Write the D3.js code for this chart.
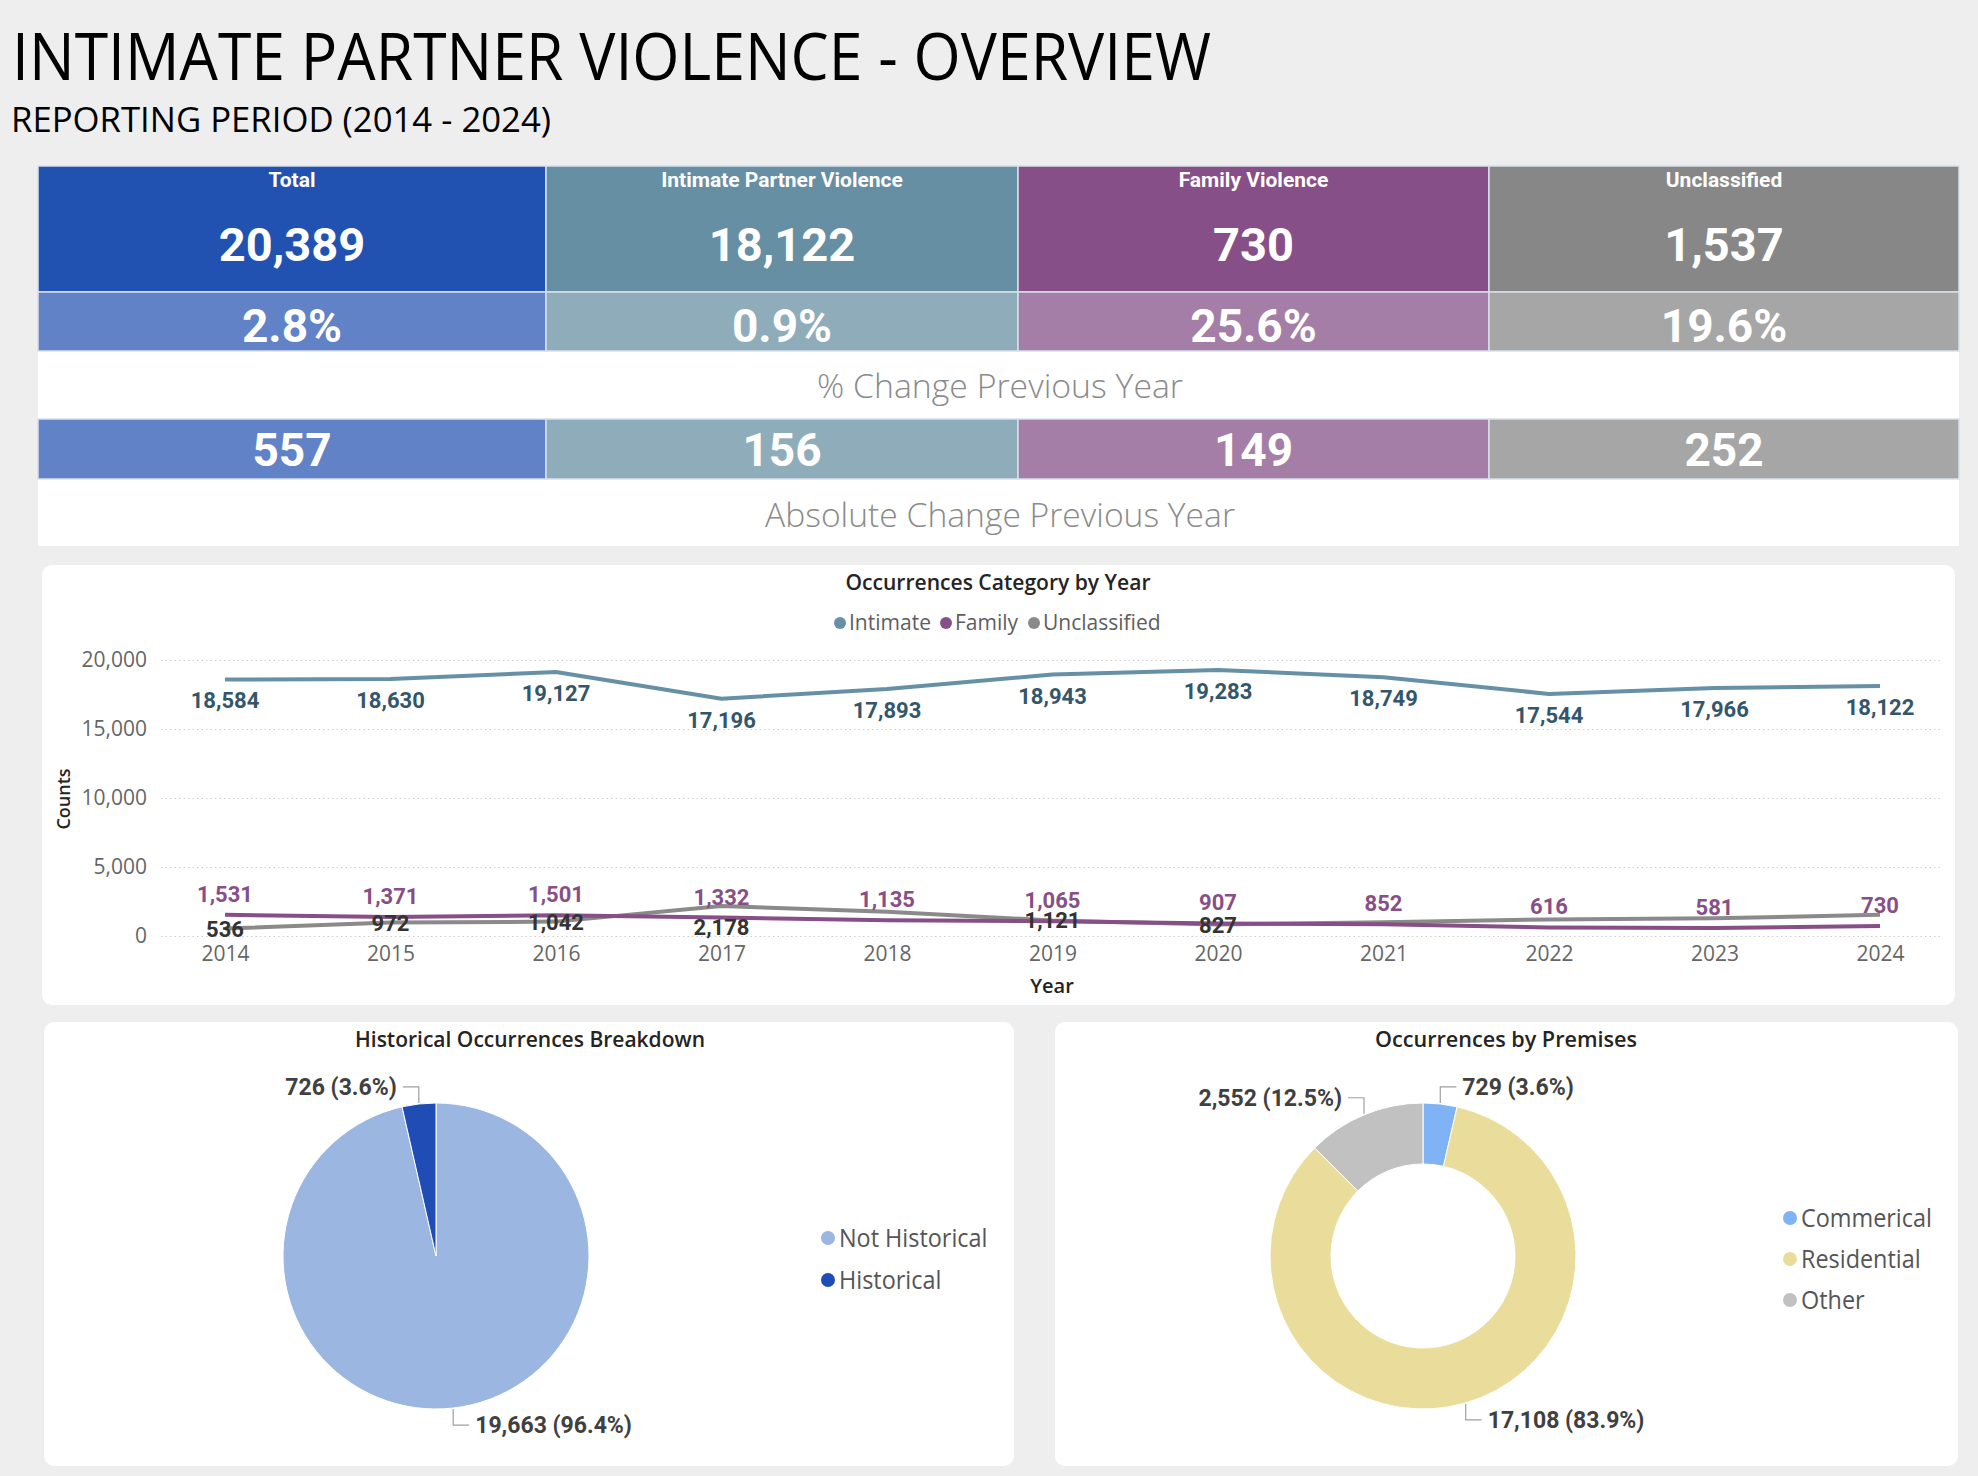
<!DOCTYPE html>
<html>
<head>
<meta charset="utf-8">
<style>
  body { margin: 0; background: #eeeeee; }
  svg { display: block; }
  .seg { font-family: "Open Sans", "Noto Sans", sans-serif; }
  .din { font-family: Roboto, "Noto Sans", sans-serif; font-weight: 700; }
  .grid line { stroke: #cfcfcf; stroke-dasharray: 1.5,3; }
  .grid path { display: none; }
  .axis path, .axis line { display: none; }
  .axis text { font-family: "Open Sans", sans-serif; font-size: 21px; fill: #666; }
</style>
<script src="https://d3js.org/d3.v7.min.js"></script>
</head>
<body>
<svg width="1978" height="1476"></svg>
<script>

// ---- data ----
var kpiCategories = ["Total", "Intimate Partner Violence", "Family Violence", "Unclassified"];
var kpiCounts = [20389, 18122, 730, 1537];
var kpiPctChange = [2.8, 0.9, 25.6, 19.6];
var kpiAbsChange = [557, 156, 149, 252];

var years = [2014, 2015, 2016, 2017, 2018, 2019, 2020, 2021, 2022, 2023, 2024];
var intimate = [18584, 18630, 19127, 17196, 17893, 18943, 19283, 18749, 17544, 17966, 18122];
var family = [1531, 1371, 1501, 1332, 1135, 1065, 907, 852, 616, 581, 730];
var unclassified = [536, 972, 1042, 2178, 1750, 1121, 827, 1000, 1200, 1285, 1537];
var unclassifiedLabelShown = [true, true, true, true, false, true, true, false, false, false, false];
var seriesNames = ["Intimate", "Family", "Unclassified"];
var yTicks = [0, 5000, 10000, 15000, 20000];

var historicalLabels = ["Not Historical", "Historical"];
var historicalCounts = [19663, 726];

var premisesLabels = ["Commerical", "Residential", "Other"];
var premisesCounts = [729, 17108, 2552];

// ---- styles ----
var kpiDark = ["#2152b2", "#668fa3", "#874f87", "#878787"];
var kpiLight = ["#6182c6", "#8facba", "#a47ea6", "#a6a6a6"];
var lineColors = ["#6690a5", "#874f87", "#8a8a8a"];
var labelColors = ["#34566b", "#874f87", "#333333"];
var historicalColors = ["#9ab6e1", "#1f4db5"];
var premisesColors = ["#7fb3f5", "#eadd9b", "#c1c1c1"];

var svg = d3.select("svg");
var fmt = d3.format(",");

svg.append("rect").attr("width", 1978).attr("height", 1476).attr("fill", "#eeeeee");

function fitWidth(sel, w) {
  sel.attr("textLength", w).attr("lengthAdjust", "spacingAndGlyphs");
}
function squeeze(sel, k) {
  sel.each(function() {
    var w = this.getComputedTextLength();
    d3.select(this).attr("textLength", w * k).attr("lengthAdjust", "spacingAndGlyphs");
  });
}

// ---- page title ----
svg.append("text").attr("class", "seg")
  .attr("x", 12).attr("y", 80)
  .attr("font-size", 66).attr("fill", "#000")
  .text("INTIMATE PARTNER VIOLENCE - OVERVIEW")
  .call(fitWidth, 1199);

svg.append("text").attr("class", "seg")
  .attr("x", 11).attr("y", 132)
  .attr("font-size", 34).attr("fill", "#000")
  .text("REPORTING PERIOD (2014 - 2024)")
  .call(fitWidth, 540);

// ---- KPI table ----
var colEdges = [38, 546, 1018, 1489, 1959];
var kpi = svg.append("g");
var rows = { top: 166, mid: 292, pctBottom: 351, absTop: 419, absBottom: 479, end: 546 };

kpi.append("rect").attr("x", colEdges[0]).attr("y", rows.pctBottom)
  .attr("width", colEdges[4] - colEdges[0]).attr("height", rows.absTop - rows.pctBottom).attr("fill", "#fff");
kpi.append("rect").attr("x", colEdges[0]).attr("y", rows.absBottom)
  .attr("width", colEdges[4] - colEdges[0]).attr("height", rows.end - rows.absBottom).attr("fill", "#fff");

kpiCategories.forEach(function(name, i) {
  var x0 = colEdges[i], x1 = colEdges[i + 1], cx = (x0 + x1) / 2;
  kpi.append("rect").attr("x", x0).attr("y", rows.top).attr("width", x1 - x0).attr("height", rows.mid - rows.top)
    .attr("fill", kpiDark[i]).attr("stroke", "#d8e0ec").attr("stroke-width", 1.5);
  kpi.append("rect").attr("x", x0).attr("y", rows.mid).attr("width", x1 - x0).attr("height", rows.pctBottom - rows.mid)
    .attr("fill", kpiLight[i]).attr("stroke", "#d8e0ec").attr("stroke-width", 1.5);
  kpi.append("rect").attr("x", x0).attr("y", rows.absTop).attr("width", x1 - x0).attr("height", rows.absBottom - rows.absTop)
    .attr("fill", kpiLight[i]).attr("stroke", "#d8e0ec").attr("stroke-width", 1.5);

  kpi.append("text").attr("class", "din").attr("x", cx).attr("y", 187)
    .attr("text-anchor", "middle").attr("font-size", 21).attr("font-weight", 500).attr("fill", "#fff")
    .text(name);
  kpi.append("text").attr("class", "din").attr("x", cx).attr("y", 261)
    .attr("text-anchor", "middle").attr("font-size", 47).attr("fill", "#fff")
    .text(fmt(kpiCounts[i]));
  kpi.append("text").attr("class", "din").attr("x", cx).attr("y", 342)
    .attr("text-anchor", "middle").attr("font-size", 46).attr("fill", "#fff")
    .text(kpiPctChange[i].toFixed(1) + "%");
  kpi.append("text").attr("class", "din").attr("x", cx).attr("y", 466)
    .attr("text-anchor", "middle").attr("font-size", 46).attr("fill", "#fff")
    .text(fmt(kpiAbsChange[i]));
});

kpi.append("text").attr("class", "seg").attr("x", 1000).attr("y", 398)
  .attr("text-anchor", "middle").attr("font-size", 33).attr("font-weight", 300).attr("fill", "#8a8a8a")
  .text("% Change Previous Year").call(fitWidth, 366);
kpi.append("text").attr("class", "seg").attr("x", 1000).attr("y", 527)
  .attr("text-anchor", "middle").attr("font-size", 33).attr("font-weight", 300).attr("fill", "#8a8a8a")
  .text("Absolute Change Previous Year").call(fitWidth, 470);

// ---- card helper ----
function card(x, y, w, h) {
  svg.append("rect").attr("x", x).attr("y", y).attr("width", w).attr("height", h)
    .attr("rx", 10).attr("fill", "#fff");
}

// ---- line chart ----
card(42, 565, 1913, 440);
svg.append("text").attr("class", "seg").attr("x", 998).attr("y", 590)
  .attr("text-anchor", "middle").attr("font-size", 21).attr("font-weight", 600).attr("fill", "#252423")
  .text("Occurrences Category by Year").call(fitWidth, 305);

var legendX = [840, 946, 1034];
seriesNames.forEach(function(n, i) {
  svg.append("circle").attr("cx", legendX[i]).attr("cy", 623).attr("r", 6).attr("fill", lineColors[i]);
  svg.append("text").attr("class", "seg").attr("x", legendX[i] + 9).attr("y", 630)
    .attr("font-size", 21).attr("fill", "#605e5c").text(n);
});

var x = d3.scalePoint().domain(years).range([225, 1880]);
var y = d3.scaleLinear().domain([0, 20000]).range([936, 660]);

svg.append("g").attr("class", "grid")
  .attr("transform", "translate(161,0)")
  .call(d3.axisLeft(y).tickValues(yTicks).tickSize(-1782).tickFormat(""));

svg.append("g").attr("class", "axis")
  .attr("transform", "translate(150,0)")
  .call(d3.axisLeft(y).tickValues(yTicks).tickSize(0).tickFormat(d3.format(",")));

svg.append("g").attr("class", "axis")
  .attr("transform", "translate(0,943)")
  .call(d3.axisBottom(x).tickSize(0).tickFormat(d3.format("d")));

svg.append("text").attr("class", "seg")
  .attr("transform", "translate(70,799) rotate(-90)")
  .attr("text-anchor", "middle").attr("font-size", 18).attr("font-weight", 600).attr("fill", "#252423")
  .text("Counts");
svg.append("text").attr("class", "seg").attr("x", 1052).attr("y", 993)
  .attr("text-anchor", "middle").attr("font-size", 20).attr("font-weight", 600).attr("fill", "#252423")
  .text("Year");

var series = [intimate, family, unclassified];
var line = d3.line().x(function(d, i) { return x(years[i]); }).y(function(d) { return y(d); });

// draw unclassified first, then family, then intimate
[2, 1, 0].forEach(function(s) {
  svg.append("path").datum(series[s])
    .attr("d", line).attr("fill", "none")
    .attr("stroke", lineColors[s]).attr("stroke-width", 4).attr("stroke-linejoin", "round");
});

var labelG = svg.append("g");
series.forEach(function(vals, s) {
  vals.forEach(function(v, i) {
    if (s === 2 && !unclassifiedLabelShown[i]) return;
    var off;
    if (s === 0) off = 21;
    else if (s === 1) off = -21;
    else off = (v - family[i] > 500) ? 21 : 0;
    labelG.append("text").attr("class", "din")
      .attr("x", x(years[i])).attr("y", y(v) + off).attr("dy", "0.36em")
      .attr("text-anchor", "middle").attr("font-size", 22).attr("fill", labelColors[s])
      .text(fmt(v));
  });
});

// ---- pie helpers ----
function leaderLabel(g, pt, dirX, dirY, text) {
  // pt: point on slice edge; go vertical then horizontal
  var p1 = [pt[0], pt[1] + dirY * 16];
  var p2 = [p1[0] + dirX * 16, p1[1]];
  g.append("polyline").attr("points", [pt, p1, p2].map(function(p) { return p.join(","); }).join(" "))
    .attr("fill", "none").attr("stroke", "#a0a0a0").attr("stroke-width", 1.2);
  g.append("text").attr("class", "din")
    .attr("x", p2[0] + dirX * 6).attr("y", p2[1]).attr("dy", "0.36em")
    .attr("text-anchor", dirX > 0 ? "start" : "end")
    .attr("font-size", 23).attr("fill", "#404040").text(text);
}

function drawPie(cx, cy, rOuter, rInner, labels, counts, colors, legendPos) {
  var total = d3.sum(counts);
  var pie = d3.pie().sort(null).value(function(d) { return d; });
  var arcs = pie(counts);
  var arc = d3.arc().innerRadius(rInner).outerRadius(rOuter);
  var g = svg.append("g").attr("transform", "translate(" + cx + "," + cy + ")");
  g.selectAll("path").data(arcs).enter().append("path")
    .attr("d", arc).attr("fill", function(d, i) { return colors[i]; })
    .attr("stroke", "#fff").attr("stroke-width", 1);
  arcs.forEach(function(a, i) {
    var mid = (a.startAngle + a.endAngle) / 2;
    var pt = [Math.sin(mid) * (rOuter + 1), -Math.cos(mid) * (rOuter + 1)];
    var dirY = Math.cos(mid) > 0 ? -1 : 1;
    var dirX = Math.sin(mid) >= 0 ? 1 : -1;
    var pct = (counts[i] / total * 100).toFixed(1);
    leaderLabel(g, pt, dirX, dirY, fmt(counts[i]) + " (" + pct + "%)");
  });
  labels.forEach(function(l, i) {
    svg.append("circle").attr("cx", legendPos[0]).attr("cy", legendPos[1] + i * legendPos[2])
      .attr("r", 7).attr("fill", colors[i]);
    svg.append("text").attr("class", "seg")
      .attr("x", legendPos[0] + 11).attr("y", legendPos[1] + i * legendPos[2]).attr("dy", "0.36em")
      .attr("font-size", 26).attr("fill", "#555").text(l).call(squeeze, 0.9);
  });
}

card(44, 1022, 970, 444);
svg.append("text").attr("class", "seg").attr("x", 530).attr("y", 1047)
  .attr("text-anchor", "middle").attr("font-size", 21).attr("font-weight", 600).attr("fill", "#252423")
  .text("Historical Occurrences Breakdown").call(fitWidth, 350);
drawPie(436, 1256, 153, 0, historicalLabels, historicalCounts, historicalColors, [828, 1238, 42]);

card(1055, 1022, 903, 444);
svg.append("text").attr("class", "seg").attr("x", 1506).attr("y", 1047)
  .attr("text-anchor", "middle").attr("font-size", 21).attr("font-weight", 600).attr("fill", "#252423")
  .text("Occurrences by Premises").call(fitWidth, 262);
drawPie(1423, 1256, 153, 92, premisesLabels, premisesCounts, premisesColors, [1790, 1218, 41]);

</script>
</body>
</html>
